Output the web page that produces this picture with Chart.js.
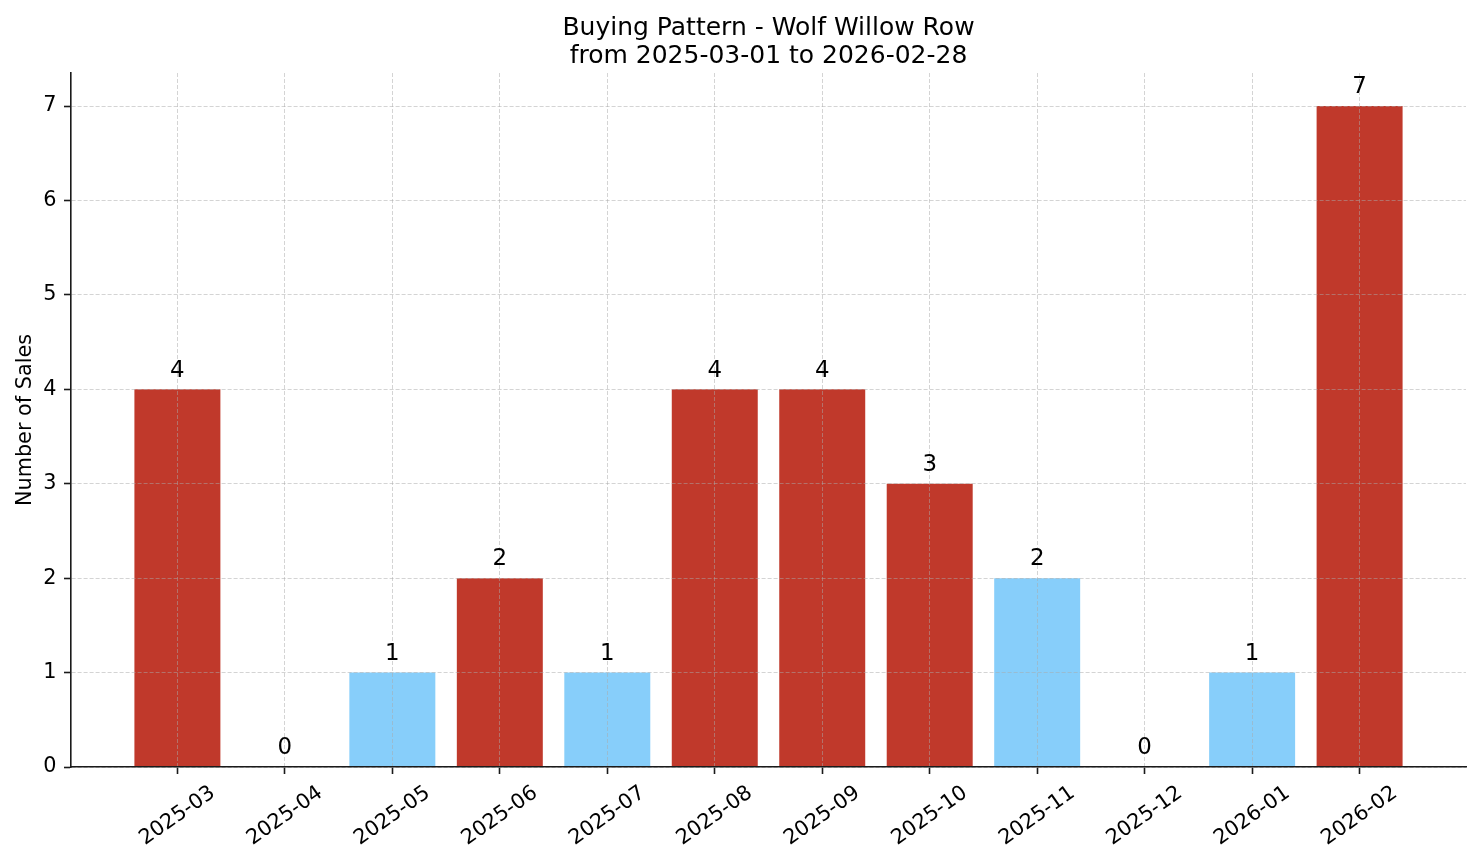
<!DOCTYPE html>
<html>
<head>
<meta charset="utf-8">
<script src="https://cdn.jsdelivr.net/npm/chart.js@4.4.1/dist/chart.umd.min.js"></script>
<style>
html,body{margin:0;padding:0;background:#fff;overflow:hidden}
canvas{display:block}
</style>
</head>
<body>
<canvas id="c" width="1481" height="863" style="width:1481px;height:863px"></canvas>
<script>
// ---- data ----
const months = ['2025-03','2025-04','2025-05','2025-06','2025-07','2025-08','2025-09','2025-10','2025-11','2025-12','2026-01','2026-02'];
const sales = [4, 0, 1, 2, 1, 4, 4, 3, 2, 0, 1, 7];
const barColors = ['#C0392B','#87CEFA','#87CEFA','#C0392B','#87CEFA','#C0392B','#C0392B','#C0392B','#87CEFA','#87CEFA','#87CEFA','#C0392B'];
const yTicks = [0, 1, 2, 3, 4, 5, 6, 7];
const titleLines = ['Buying Pattern - Wolf Willow Row', 'from 2025-03-01 to 2026-02-28'];
const yAxisTitle = 'Number of Sales';

// ---- style ----
const FONT = '"DejaVu Sans", sans-serif';
const GRID = 'rgba(170,170,170,0.5)';
const AXIS = '#1a1a1a';

const overlay = {
  id: 'overlay',
  afterDraw(chart) {
    const {ctx, chartArea, scales: {x}} = chart;
    ctx.save();
    ctx.fillStyle = '#000';
    // title
    ctx.font = '25px ' + FONT;
    ctx.textAlign = 'center';
    ctx.textBaseline = 'alphabetic';
    const cx = (chartArea.left + chartArea.right) / 2;
    ctx.fillText(titleLines[0], cx, 34.5);
    ctx.fillText(titleLines[1], cx, 63);
    // rotated x tick labels
    ctx.font = '20.8px ' + FONT;
    ctx.textBaseline = 'middle';
    months.forEach((m, i) => {
      const px = x.getPixelForValue(i);
      ctx.save();
      ctx.translate(px, chartArea.bottom + 49);
      ctx.rotate(-35 * Math.PI / 180);
      ctx.fillText(m, 0, 0);
      ctx.restore();
    });
    // value labels
    ctx.font = '22.9px ' + FONT;
    ctx.textBaseline = 'alphabetic';
    const meta = chart.getDatasetMeta(0);
    sales.forEach((v, i) => {
      const el = meta.data[i];
      ctx.fillText(String(v), el.x, el.y - 12.7);
    });
    ctx.restore();
  }
};

new Chart(document.getElementById('c'), {
  type: 'bar',
  data: {
    datasets: [{
      data: sales.map((v, i) => ({x: i, y: v})),
      backgroundColor: barColors,
      borderWidth: 0,
      barPercentage: 0.8,
      categoryPercentage: 1.0
    }]
  },
  options: {
    responsive: false,
    devicePixelRatio: 1,
    animation: false,
    events: [],
    layout: {padding: {left: 4, right: 15, top: 73, bottom: 0}},
    plugins: {legend: {display: false}, tooltip: {enabled: false}, title: {display: false}},
    scales: {
      x: {
        type: 'linear',
        min: -0.99,
        max: 11.99,
        offset: false,
        afterBuildTicks: s => { s.ticks = months.map((_, i) => ({value: i})); },
        afterFit: s => { s.height = 96; },
        ticks: {display: false},
        grid: {
          display: true, offset: false, color: GRID, lineWidth: 1,
          borderDash: [4, 2],
          drawTicks: true, tickLength: 7, tickColor: AXIS, tickWidth: 1.6, tickBorderDash: [],
          z: 1
        },
        border: {display: true, color: AXIS, width: 1.6, dash: [4, 2], z: 2}
      },
      y: {
        type: 'linear',
        min: 0,
        max: 7.35,
        afterBuildTicks: s => { s.ticks = yTicks.map(v => ({value: v})); },
        afterFit: s => { s.width = 67; },
        ticks: {color: '#000', font: {family: FONT, size: 20.8}, padding: 7.5, callback: v => String(v)},
        grid: {
          color: GRID, lineWidth: 1, borderDash: [4, 2],
          drawTicks: true, tickLength: 7, tickColor: AXIS, tickWidth: 1.6, tickBorderDash: [],
          z: 1
        },
        border: {display: true, color: AXIS, width: 1.6, dash: [4, 2], z: 2},
        title: {display: true, text: yAxisTitle, color: '#000', font: {family: FONT, size: 20.8}, padding: {top: 9, bottom: 0}}
      }
    }
  },
  plugins: [overlay]
});
</script>
</body>
</html>
